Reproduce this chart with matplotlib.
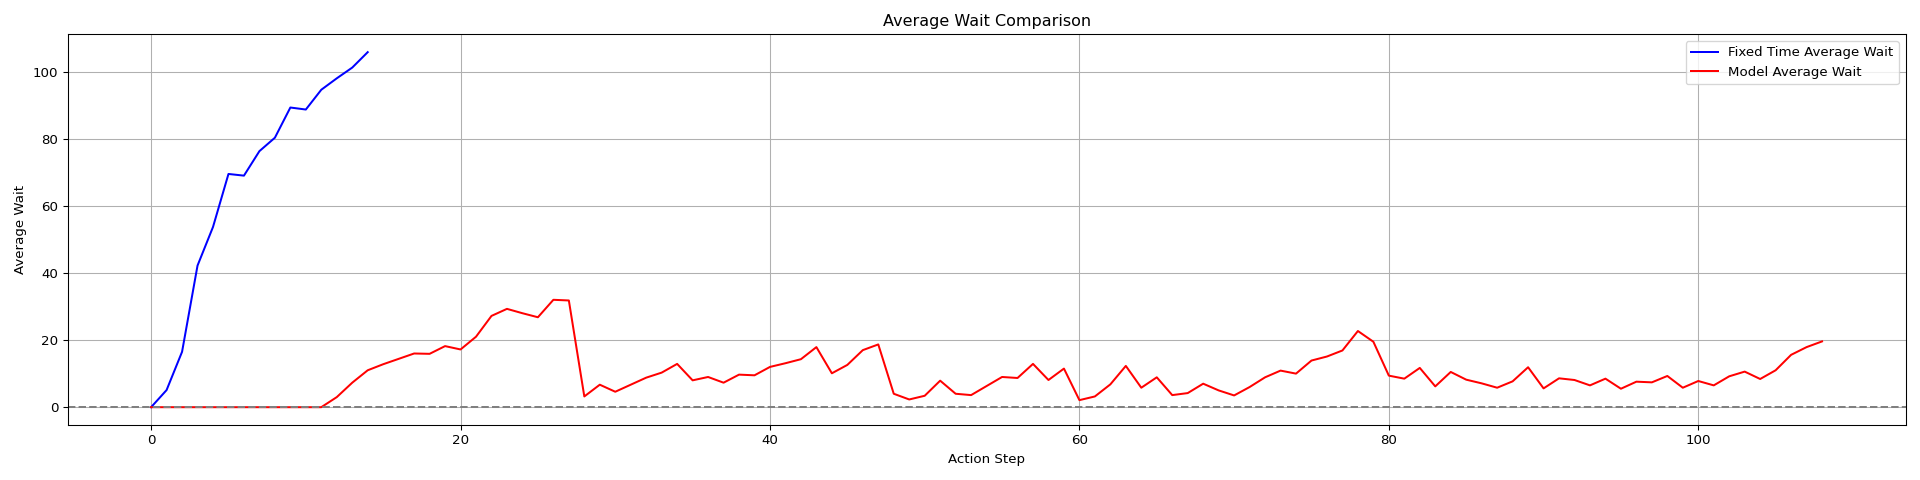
import matplotlib

matplotlib.use("Agg")
import matplotlib.pyplot as plt  # noqa: E402

# Valores (espera media por paso de acción).
fixed_wait = [0.0, 5.1, 16.5, 42.2, 53.7, 69.5, 69.0, 76.3, 80.3, 89.3,
              88.7, 94.6, 98.0, 101.2, 105.8]

model_wait = [
    0.0, 0.0, 0.0, 0.0, 0.0, 0.0, 0.0, 0.0, 0.0, 0.0,
    0.0, 0.0, 3.0, 7.3, 11.0, 12.8, 14.4, 16.0, 15.9, 18.2,
    17.2, 21.0, 27.2, 29.3, 28.0, 26.8, 32.0, 31.8, 3.2, 6.7,
    4.6, 6.7, 8.8, 10.3, 12.9, 8.0, 9.0, 7.3, 9.7, 9.5,
    12.0, 13.1, 14.3, 17.9, 10.1, 12.6, 17.0, 18.7, 4.0, 2.3,
    3.4, 7.9, 4.0, 3.6, 6.3, 9.0, 8.7, 12.9, 8.1, 11.5,
    2.1, 3.2, 6.8, 12.3, 5.8, 8.9, 3.6, 4.2, 7.0, 5.0,
    3.5, 6.0, 8.9, 10.9, 10.0, 13.9, 15.1, 16.9, 22.7, 19.5,
    9.4, 8.5, 11.7, 6.2, 10.5, 8.2, 7.1, 5.8, 7.7, 11.9,
    5.6, 8.6, 8.1, 6.5, 8.5, 5.5, 7.6, 7.4, 9.3, 5.8,
    7.8, 6.5, 9.2, 10.6, 8.4, 11.0, 15.6, 17.9, 19.6,
]

fixed_steps = list(range(len(fixed_wait)))
model_steps = list(range(len(model_wait)))

fig, ax = plt.subplots(figsize=(20, 5), dpi=96)
ax.plot(fixed_steps, fixed_wait, color="blue", label="Fixed Time Average Wait")
ax.plot(model_steps, model_wait, color="red", label="Model Average Wait")
ax.axhline(0, color="gray", linestyle="--")
ax.set_title("Average Wait Comparison")
ax.set_xlabel("Action Step")
ax.set_ylabel("Average Wait")
ax.legend(loc="upper right")
ax.grid(True)
fig.tight_layout()
fig.savefig("out.png", dpi=96)
